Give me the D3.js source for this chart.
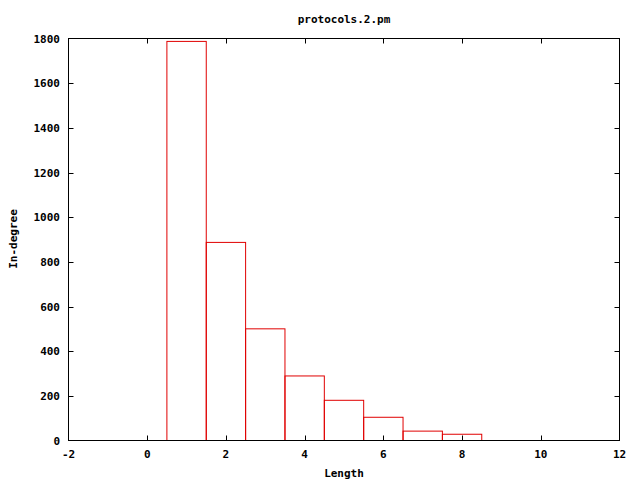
<!DOCTYPE html>
<html><head><meta charset="utf-8">
<script src="https://cdn.jsdelivr.net/npm/d3@7"></script>
<style>
html,body{margin:0;padding:0;background:#fff;}
text{font-family:"DejaVu Sans Mono","Liberation Mono",monospace;font-weight:bold;font-size:11px;fill:#000;}
</style></head>
<body><svg id="c" width="640" height="480"></svg>
<script>
const lengths = [1, 2, 3, 4, 5, 6, 7, 8];
const inDegree = [1787, 887, 500, 289, 180, 104, 42, 28];
const xTicks = [-2, 0, 2, 4, 6, 8, 10, 12];
const yTicks = [0, 200, 400, 600, 800, 1000, 1200, 1400, 1600, 1800];
const title = "protocols.2.pm";
const xLabel = "Length";
const yLabel = "In-degree";

const svg = d3.select("#c");
const L = 68.5, R = 619.5, T = 38.5, B = 440.5;
const x = d3.scaleLinear().domain([-2, 12]).range([L, R]);
const y = d3.scaleLinear().domain([0, 1800]).range([B, T]);
svg.append("rect").attr("width",640).attr("height",480).attr("fill","#fff");

// bars
svg.append("g").selectAll("rect").data(lengths).join("rect")
  .attr("x", d => x(d - 0.5))
  .attr("width", d => x(d + 0.5) - x(d - 0.5))
  .attr("y", (d,i) => y(inDegree[i]))
  .attr("height", (d,i) => B - y(inDegree[i]))
  .attr("fill", "none").attr("stroke", "#e00000").attr("stroke-width", 1);

const tk = 5;
const ax = svg.append("g").attr("stroke","#000").attr("stroke-width",1);
xTicks.slice(1,-1).forEach(t => {
  ax.append("line").attr("x1",Math.round(x(t))+0.5).attr("x2",Math.round(x(t))+0.5).attr("y1",B).attr("y2",B-tk);
  ax.append("line").attr("x1",Math.round(x(t))+0.5).attr("x2",Math.round(x(t))+0.5).attr("y1",T).attr("y2",T+tk);
});
yTicks.slice(1,-1).forEach(t => {
  ax.append("line").attr("y1",Math.round(y(t))+0.5).attr("y2",Math.round(y(t))+0.5).attr("x1",L).attr("x2",L+tk);
  ax.append("line").attr("y1",Math.round(y(t))+0.5).attr("y2",Math.round(y(t))+0.5).attr("x1",R).attr("x2",R-tk);
});
ax.append("rect").attr("x",L).attr("y",T).attr("width",R-L).attr("height",B-T).attr("fill","none");

// labels
svg.append("g").selectAll("text").data(xTicks).join("text")
  .attr("x", d => x(d)).attr("y", 458).attr("text-anchor","middle").text(d => d);
svg.append("g").selectAll("text").data(yTicks).join("text")
  .attr("x", 60).attr("y", d => y(d) + 4).attr("text-anchor","end").text(d => d);

svg.append("text").attr("x",(L+R)/2).attr("y",23).attr("text-anchor","middle").text(title);
svg.append("text").attr("x",(L+R)/2).attr("y",477).attr("text-anchor","middle").text(xLabel);
svg.append("text").attr("transform","translate(17,239) rotate(-90)").attr("text-anchor","middle").text(yLabel);
</script></body></html>
